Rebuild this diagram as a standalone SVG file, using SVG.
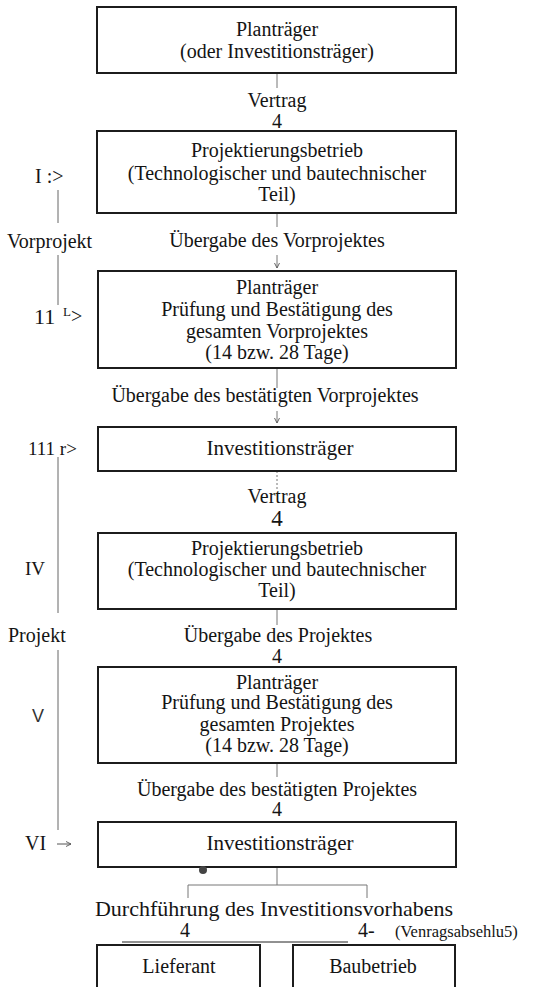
<svg xmlns="http://www.w3.org/2000/svg" width="545" height="987" viewBox="0 0 545 987">
<style>
text{font-family:'Liberation Serif','DejaVu Serif',serif;fill:#141414;font-size:20px}
.c{text-anchor:middle}
.box{fill:none;stroke:#1c1c1c;stroke-width:2}
.ln{stroke:#777;stroke-width:1;fill:none}
.side{stroke:#666;stroke-width:1;fill:none}
</style>
<defs>
<marker id="ah" viewBox="0 0 8 8" refX="7" refY="4" markerWidth="6" markerHeight="6" orient="auto"><path d="M0,0.5 L7,4 L0,7.5" fill="none" stroke="#555" stroke-width="1.2"/></marker>
</defs>
<rect width="545" height="987" fill="#fff"/>

<g id="connectors">
<line class="ln" x1="277" y1="73" x2="277" y2="88"/>
<line class="ln" x1="277" y1="213" x2="277" y2="227"/>
<line class="ln" x1="277" y1="255" x2="277" y2="268" marker-end="url(#ah)"/>
<line class="ln" x1="277" y1="368" x2="277" y2="388"/>
<line class="ln" x1="277" y1="411" x2="277" y2="423" marker-end="url(#ah)"/>
<line class="ln" x1="277" y1="471" x2="277" y2="489" stroke-dasharray="2 2"/>
<line class="ln" x1="277" y1="609" x2="277" y2="625"/>
<line class="ln" x1="277" y1="763" x2="277" y2="777"/>
<line class="ln" x1="277" y1="867" x2="277" y2="885"/>
<path class="ln" d="M188,898 V885 H367 V898"/>
<line x1="122" y1="942" x2="348" y2="942" stroke="#222" stroke-width="1"/>
<line class="side" x1="58" y1="190" x2="58" y2="223"/>
<line class="side" x1="58" y1="255" x2="58" y2="305"/>
<line class="side" x1="58" y1="457" x2="58" y2="613"/>
<line class="side" x1="58" y1="650" x2="58" y2="830"/>
<line x1="57" y1="844" x2="71" y2="844" stroke="#555" stroke-width="1" marker-end="url(#ah)"/>
</g>

<g id="edge-labels">
<text class="c" x="277" y="107">Vertrag</text>
<text class="c" x="277" y="128">4</text>
<text class="c" x="277" y="247">Übergabe des Vorprojektes</text>
<text class="c" x="265" y="402">Übergabe des bestätigten Vorprojektes</text>
<text class="c" x="277" y="503">Vertrag</text>
<text class="c" x="277" y="526" style="font-size:23px">4</text>
<text class="c" x="278" y="642">Übergabe des Projektes</text>
<text class="c" x="277" y="663">4</text>
<text class="c" x="277" y="796">Übergabe des bestätigten Projektes</text>
<text class="c" x="277" y="816">4</text>
<text class="c" x="274" y="916" style="font-size:22px">Durchführung des Investitionsvorhabens</text>
<text x="180" y="937">4</text>
<text x="358" y="937">4-</text>
<text x="395" y="937" style="font-size:16.5px">(Venragsabsehlu5)</text>
</g>

<g id="side-labels">
<text x="35" y="183">I :&gt;</text>
<text x="7" y="248">Vorprojekt</text>
<text x="34" y="324" style="font-size:22px">11</text>
<text x="63" y="316" style="font-size:13px">L</text>
<text x="71" y="323">&gt;</text>
<text x="28" y="455" style="font-size:19px">111 r&gt;</text>
<text x="25" y="575" style="font-size:19px">IV</text>
<text x="8" y="642">Projekt</text>
<text x="32" y="722" style="font-size:18px;font-family:'Liberation Sans','DejaVu Sans',sans-serif;fill:#333">V</text>
<text x="25" y="850">VI</text>
</g>

<g id="n1">
<rect class="box" x="97" y="7" width="359" height="66"/>
<text class="c" x="277" y="36">Planträger</text>
<text class="c" x="277" y="58">(oder Investitionsträger)</text>
</g>

<g id="n2">
<rect class="box" x="97" y="131" width="359" height="82"/>
<text class="c" x="277" y="157">Projektierungsbetrieb</text>
<text class="c" x="277" y="180">(Technologischer und bautechnischer</text>
<text class="c" x="277" y="201">Teil)</text>
</g>

<g id="n3">
<rect class="box" x="98" y="271" width="358" height="97"/>
<text class="c" x="277" y="294">Planträger</text>
<text class="c" x="277" y="316">Prüfung und Bestätigung des</text>
<text class="c" x="277" y="338">gesamten Vorprojektes</text>
<text class="c" x="277" y="359">(14 bzw. 28 Tage)</text>
</g>

<g id="n4">
<rect class="box" x="98" y="427" width="358" height="44"/>
<text class="c" x="280" y="455" style="font-size:21px">Investitionsträger</text>
</g>

<g id="n5">
<rect class="box" x="98" y="533" width="358" height="76"/>
<text class="c" x="277" y="555">Projektierungsbetrieb</text>
<text class="c" x="277" y="576">(Technologischer und bautechnischer</text>
<text class="c" x="277" y="597">Teil)</text>
</g>

<g id="n6">
<rect class="box" x="98" y="667" width="358" height="96"/>
<text class="c" x="277" y="689">Planträger</text>
<text class="c" x="277" y="709">Prüfung und Bestätigung des</text>
<text class="c" x="277" y="731">gesamten Projektes</text>
<text class="c" x="277" y="752">(14 bzw. 28 Tage)</text>
</g>

<g id="n7">
<rect class="box" x="98" y="822" width="358" height="45"/>
<text class="c" x="280" y="850" style="font-size:21px">Investitionsträger</text>
<circle cx="203" cy="870" r="4" fill="#444"/>
</g>

<g id="n8">
<rect class="box" x="97" y="945" width="163" height="60"/>
<text class="c" x="179" y="973">Lieferant</text>
</g>

<g id="n9">
<rect class="box" x="293" y="945" width="162" height="60"/>
<text class="c" x="373" y="973">Baubetrieb</text>
</g>
</svg>
